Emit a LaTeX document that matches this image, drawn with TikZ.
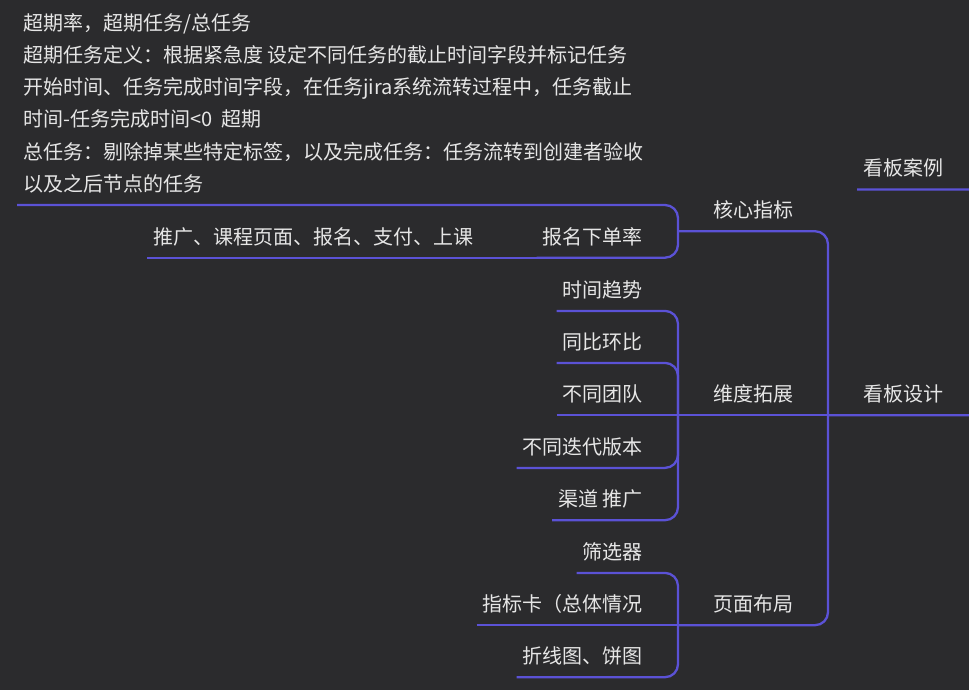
\documentclass[tikz,border=0pt]{standalone}
\usepackage{fontspec}
\setmainfont{Noto Sans CJK SC}
\usepackage{xcolor}
\definecolor{bgcol}{HTML}{2B2B2D}
\definecolor{branchcol}{HTML}{5B52D6}
\definecolor{txtcol}{HTML}{E6E6E6}

\begin{document}
\begin{tikzpicture}[x=1pt,y=-1pt,
    topic/.style={inner xsep=6pt,inner ysep=13.5pt,text depth=0pt,
        text=txtcol,font=\fontsize{20}{32.2}\selectfont},
    hub/.style={topic,inner xsep=35pt},
    link/.style={draw=branchcol,line width=2.3pt,rounded corners=13pt}]
\useasboundingbox (0,0) rectangle (969,690);
\fill[bgcol] (0,0) rectangle (969,690);

\coordinate (root) at (995,300);
\node[topic,anchor=base west] (case) at (857,175.8) {看板案例};
\node[hub,anchor=base west] (design) at (828,401.5) {看板设计};

\node[hub,anchor=base west] (kpi) at (678,217.5) {核心指标};
\node[hub,anchor=base west] (dim) at (678,401.5) {维度拓展};
\node[hub,anchor=base west] (layout) at (678,611.5) {页面布局};

\node[topic,anchor=south west,align=left] (note) at (17,205) {超期率，超期任务/总任务\\
超期任务定义：根据紧急度 设定不同任务的截止时间字段并标记任务\\
开始时间、任务完成时间字段，在任务jira系统流转过程中，任务截止\\
时间-任务完成时间<0~~超期\\
总任务：剔除掉某些特定标签，以及完成任务：任务流转到创建者验收\\
以及之后节点的任务};
\node[topic,anchor=base east] (rate) at (649,244) {报名下单率};
\node[topic,anchor=base west] (promo) at (147,244) {推广、课程页面、报名、支付、上课};

\node[topic,anchor=base east] (trend) at (649,297.2) {时间趋势};
\node[topic,anchor=base east] (yoy) at (649,349.2) {同比环比};
\node[topic,anchor=base east] (team) at (649,401.5) {不同团队};
\node[topic,anchor=base east] (iter) at (649,454.2) {不同迭代版本};
\node[topic,anchor=base east] (channel) at (649,506.5) {渠道 推广};

\node[topic,anchor=base east] (filter) at (649,559.2) {筛选器};
\node[topic,anchor=base east] (card) at (649,611.5) {指标卡（总体情况};
\node[topic,anchor=base east] (chart) at (649,663.5) {折线图、饼图};

\begin{scope}[link]
    \foreach \c in {case,design} \draw (\c.south west) -| (root);
    \foreach \c in {kpi,layout} \draw (\c.south west) -| (design.south west);
    \draw (dim.south west) -- (design.south west);
    \foreach \c in {note,rate} \draw (\c.south west) -| (kpi.south west);
    \draw (promo.south west) -- (rate.south west);
    \foreach \c in {trend,yoy,iter,channel} \draw (\c.south west) -| (dim.south west);
    \draw (team.south west) -- (dim.south west);
    \foreach \c in {filter,chart} \draw (\c.south west) -| (layout.south west);
    \draw (card.south west) -- (layout.south west);
\end{scope}
\end{tikzpicture}
\end{document}
